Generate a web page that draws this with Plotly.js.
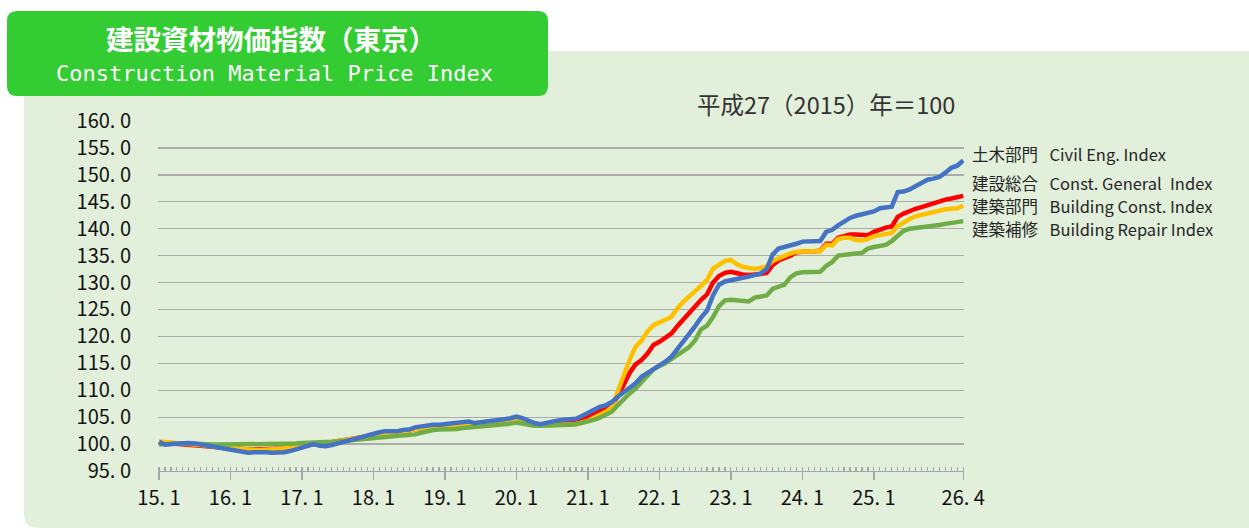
<!DOCTYPE html>
<html><head><meta charset="utf-8">
<script src="https://cdn.plot.ly/plotly-3.0.1.min.js"></script>
<style>html,body{margin:0;padding:0;background:#fff;overflow:hidden;} #chart{width:1249px;height:530px;}</style>
</head><body><div id="chart"></div>
<script>
// ---- data (monthly, 2015.1 – 2026.4), 2015 = 100 ----
const civilEng = [
 100.4, 99.9,100.0,100.1,100.2,100.2,100.1, 99.9, 99.7, 99.4, 99.3, 99.1,
  98.9, 98.7, 98.5, 98.4, 98.5, 98.6, 98.5, 98.4, 98.4, 98.5, 98.7, 99.0,
  99.4, 99.7,100.0, 99.7, 99.6, 99.8,100.1,100.5,100.9,101.2,101.5,101.7,
 101.9,102.2,102.4,102.3,102.4,102.6,102.7,103.1,103.3,103.5,103.6,103.6,
 103.7,103.8,103.9,104.1,104.2,103.9,104.0,104.1,104.2,104.3,104.6,104.8,
 105.1,104.8,104.3,103.9,103.7,104.0,104.2,104.4,104.5,104.6,104.7,105.2,
 105.8,106.4,106.9,107.2,107.8,108.8,109.6,110.4,111.3,112.5,113.2,113.9,
 114.5,115.3,116.2,117.6,118.8,120.3,121.9,123.5,124.8,127.6,129.6,130.2,
 130.5,130.6,130.9,131.1,131.4,131.7,132.5,135.2,136.3,136.6,136.7,137.2,
 137.6,137.6,137.6,137.7,139.4,139.8,140.6,141.4,142.0,142.4,142.7,142.9,
 143.2,143.8,143.9,144.1,146.8,146.9,147.3,147.9,148.3,149.1,149.3,149.6,
 150.4,151.3,151.7,152.7];
const constGeneral = [
 100.3,100.2,100.2,100.1,100.1,100.0, 99.9, 99.8, 99.7, 99.5, 99.4, 99.3,
  99.2, 99.1, 99.1, 99.0, 99.0, 99.0, 99.0, 99.0, 99.1, 99.2, 99.3, 99.5,
  99.7, 99.9,100.1,100.2,100.3,100.4,100.5,100.7,100.9,101.1,101.3,101.5,
 101.7,101.9,102.0,102.1,102.2,102.3,102.5,102.8,103.0,103.2,103.3,103.4,
 103.5,103.6,103.7,103.8,103.9,103.8,103.8,103.9,104.0,104.1,104.3,104.5,
 104.7,104.4,104.1,103.8,103.6,103.7,103.7,103.8,103.9,104.0,104.1,104.5,
 105.0,105.5,106.0,106.6,107.2,108.8,111.0,113.2,114.8,115.6,116.8,118.4,
 119.0,119.7,120.5,121.9,123.2,124.4,125.6,126.8,127.8,130.0,131.2,131.8,
 132.0,131.7,131.5,131.4,131.4,131.6,131.8,133.2,134.1,134.5,135.0,135.6,
 135.8,135.8,135.8,135.9,137.2,137.2,138.3,138.7,138.9,138.9,138.8,138.8,
 139.4,139.9,140.2,140.4,142.2,142.8,143.3,143.7,144.0,144.4,144.8,145.1,
 145.4,145.6,145.8,146.1];
const buildingConst = [
 100.5,100.4,100.3,100.2,100.1,100.0, 99.9, 99.8, 99.6, 99.5, 99.3, 99.2,
  99.1, 99.0, 98.9, 98.9, 98.9, 98.9, 98.9, 99.0, 99.1, 99.2, 99.3, 99.5,
  99.7, 99.9,100.1,100.2,100.3,100.4,100.5,100.7,100.9,101.1,101.3,101.5,
 101.7,101.9,102.0,102.1,102.2,102.3,102.5,102.8,103.0,103.2,103.3,103.4,
 103.5,103.6,103.7,103.8,103.9,103.8,103.8,103.9,104.0,104.1,104.3,104.5,
 104.7,104.4,104.0,103.7,103.5,103.5,103.5,103.5,103.5,103.6,103.7,104.0,
 104.3,104.9,105.4,106.0,106.8,109.5,112.7,115.6,118.1,119.2,120.9,122.1,
 122.5,123.1,123.6,125.2,126.4,127.3,128.4,129.4,130.5,132.6,133.2,134.0,
 134.2,133.4,132.9,132.6,132.5,132.7,133.0,134.0,134.5,134.9,135.4,135.7,
 135.8,135.8,135.8,135.8,137.0,136.9,138.1,138.3,138.3,137.9,137.8,138.1,
 138.6,138.8,139.0,139.2,140.5,141.2,141.8,142.3,142.6,142.9,143.1,143.3,
 143.6,143.7,143.8,144.3];
const buildingRepair = [
  99.9,100.0,100.0,100.1,100.1,100.1,100.0,100.0, 99.9, 99.9, 99.9, 99.9,
  99.9, 99.9, 99.9, 99.9, 99.9, 99.9, 99.9, 99.9, 99.9,100.0,100.0,100.1,
 100.2,100.3,100.3,100.4,100.4,100.4,100.5,100.6,100.6,100.7,100.8,100.9,
 101.0,101.2,101.4,101.4,101.5,101.6,101.6,101.8,102.1,102.4,102.6,102.7,
 102.7,102.7,102.8,103.0,103.1,103.1,103.2,103.2,103.3,103.4,103.6,103.8,
 104.0,103.8,103.5,103.4,103.4,103.4,103.4,103.5,103.5,103.6,103.7,103.9,
 104.1,104.5,104.9,105.4,106.0,107.2,108.4,109.4,110.3,111.5,113.0,113.9,
 114.5,115.0,115.8,116.6,117.2,118.0,119.3,121.3,122.0,123.6,125.6,126.7,
 126.8,126.7,126.6,126.5,127.2,127.3,127.6,128.8,129.3,129.6,131.0,131.7,
 131.9,131.9,131.9,132.0,133.1,133.8,135.0,135.2,135.3,135.4,135.5,136.3,
 136.6,136.8,137.0,137.7,138.6,139.6,140.0,140.1,140.3,140.5,140.6,140.7,
 140.9,141.0,141.1,141.4];

const seriesLabels = [
  '土木部門\u2002\u2009Civil Eng. Index',
  '建設総合\u2002\u2009Const. General\u2002Index',
  '建築部門\u2002\u2009Building Const. Index',
  '建築補修\u2002\u2009Building Repair Index'];
const xTickLabels = ['15. 1','16. 1','17. 1','18. 1','19. 1','20. 1','21. 1','22. 1','23. 1','24. 1','25. 1','26. 4'];
const yTickValues = [95,100,105,110,115,120,125,130,135,140,145,150,155,160];
const titleJa = '建設資材物価指数（東京）';
const titleEn = 'Construction Material Price Index';
const baseNote = '平成27（2015）年＝100';
const START_YEAR = 15, START_MONTH = 1;

// ---- layout helpers (pixel -> paper) ----
const W = 1249, H = 530;
const ML = 158, MT = 121, PW = 806, PH = 350;
const MR = W - ML - PW, MB = H - MT - PH;
const fx = p => (p - ML) / PW;
const fy = p => (MT + PH - p) / PH;
function roundRect(x0, y0, x1, y1, r) {
  const P = (x, y) => fx(x) + ',' + fy(y);
  return 'M' + P(x0 + r, y0) + ' L' + P(x1 - r, y0) + ' Q' + P(x1, y0) + ' ' + P(x1, y0 + r) +
    ' L' + P(x1, y1 - r) + ' Q' + P(x1, y1) + ' ' + P(x1 - r, y1) +
    ' L' + P(x0 + r, y1) + ' Q' + P(x0, y1) + ' ' + P(x0, y1 - r) +
    ' L' + P(x0, y0 + r) + ' Q' + P(x0, y0) + ' ' + P(x0 + r, y0) + ' Z';
}

const monthIdx = civilEng.map((_, i) => i);
const tickPos = xTickLabels.map(s => {
  const [yy, mm] = s.split('.').map(t => parseInt(t.trim(), 10));
  return (yy - START_YEAR) * 12 + (mm - START_MONTH);
});

const colors = {civil: '#4472C4', general: '#FF0000', building: '#FFC000', repair: '#70AD47'};
const mk = (y, c, name) => ({x: monthIdx, y: y, type: 'scatter', mode: 'lines', name: name,
  line: {color: c, width: 4.5}, hoverinfo: 'skip'});
const traces = [
  mk(constGeneral, colors.general, seriesLabels[1]),
  mk(buildingConst, colors.building, seriesLabels[2]),
  mk(buildingRepair, colors.repair, seriesLabels[3]),
  mk(civilEng, colors.civil, seriesLabels[0])
];

const jp = '"Noto Sans CJK JP", "Noto Sans", sans-serif';
const ann = (text, x, y, opts) => Object.assign({text: text, xref: 'paper', yref: 'paper',
  x: fx(x), y: fy(y), showarrow: false, yanchor: 'middle'}, opts);
const labelY = [154, 183, 205.5, 229];

const layout = {
  width: W, height: H,
  margin: {l: ML, r: MR, t: MT, b: MB, pad: 0, autoexpand: false},
  paper_bgcolor: '#FFFFFF', plot_bgcolor: 'rgba(0,0,0,0)',
  showlegend: false,
  xaxis: {
    range: [-0.168, 135.13], tickmode: 'array', tickvals: tickPos, ticktext: xTickLabels,
    showgrid: false, zeroline: false, showline: true, linecolor: '#A6A6A6', linewidth: 1.3,
    ticks: 'outside', ticklen: 8, tickwidth: 1.3, tickcolor: '#A6A6A6',
    minor: {tickmode: 'linear', tick0: 0, dtick: 1, ticks: 'inside', ticklen: 4, tickwidth: 1.2, tickcolor: '#A6A6A6', showgrid: false},
    tickfont: {family: jp, size: 20, color: '#111111'}, ticklabelstandoff: 1
  },
  yaxis: {
    range: [95, 160], tickmode: 'array', tickvals: yTickValues,
    ticktext: yTickValues.map(v => v.toFixed(1).replace('.', '. ')),
    showgrid: true, gridcolor: '#ABABAB', gridwidth: 1.3, zeroline: false, showline: false,
    ticks: '', tickfont: {family: jp, size: 20, color: '#111111'}, ticklabelstandoff: 26
  },
  shapes: [
    {type: 'path', xref: 'paper', yref: 'paper', layer: 'below', path: roundRect(24, 51, 1262, 528, 14),
     fillcolor: '#E2EFDA', line: {width: 0}},
    {type: 'path', xref: 'paper', yref: 'paper', layer: 'below', path: roundRect(7, 11, 548, 96, 10),
     fillcolor: '#33CC33', line: {width: 0}}
  ],
  annotations: [
    ann('<b>' + titleJa + '</b>', 271, 38, {xanchor: 'center', font: {family: jp, size: 27.5, color: '#FFFFFF'}}),
    ann(titleEn, 274, 74, {xanchor: 'center', font: {family: '"DejaVu Sans Mono", monospace', size: 22, color: '#FFFFFF'}}),
    ann(baseNote, 957, 104, {xanchor: 'right', font: {family: jp, size: 23.5, color: '#333333'}})
  ].concat(seriesLabels.map((t, i) => ann(t, 970, labelY[i], {xanchor: 'left', font: {family: jp, size: 16.5, color: '#262626'}})))
};

Plotly.newPlot('chart', traces, layout, {staticPlot: true, displayModeBar: false});
</script></body></html>
